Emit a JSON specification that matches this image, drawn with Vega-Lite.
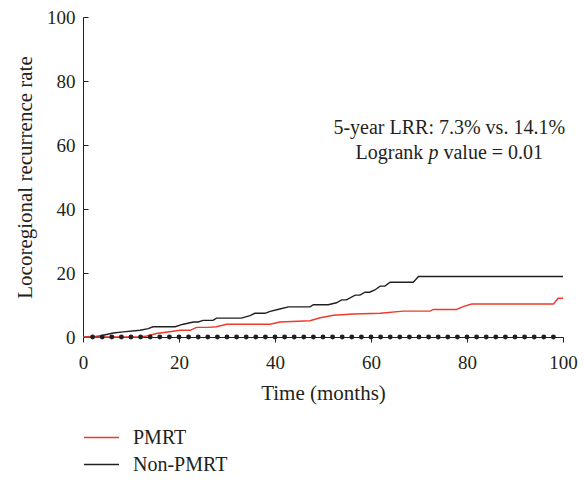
{
  "$schema": "https://vega.github.io/schema/vega-lite/v6.json",
  "autosize": "none",
  "width": 480,
  "height": 320,
  "padding": {"left": 83, "top": 17, "right": 23, "bottom": 145},
  "background": "white",
  "config": {
    "view": {"stroke": null},
    "font": "Liberation Serif",
    "axis": {
      "labelFont": "Liberation Serif", "labelFontSize": 19, "labelColor": "#231f20",
      "titleFont": "Liberation Serif", "titleFontSize": 21, "titleFontWeight": "normal", "titleColor": "#231f20",
      "domainColor": "#231f20", "tickColor": "#231f20", "grid": false
    }
  },
  "datasets": {
    "curves": [
      {"group": "Non-PMRT", "month": 0, "rate": 0},
      {"group": "Non-PMRT", "month": 2, "rate": 0},
      {"group": "Non-PMRT", "month": 3.5, "rate": 0.3},
      {"group": "Non-PMRT", "month": 6.3, "rate": 1.25},
      {"group": "Non-PMRT", "month": 8.4, "rate": 1.6},
      {"group": "Non-PMRT", "month": 11.9, "rate": 2.1},
      {"group": "Non-PMRT", "month": 13.6, "rate": 2.6},
      {"group": "Non-PMRT", "month": 14.6, "rate": 3.2},
      {"group": "Non-PMRT", "month": 19.2, "rate": 3.2},
      {"group": "Non-PMRT", "month": 20.9, "rate": 4},
      {"group": "Non-PMRT", "month": 23, "rate": 4.7},
      {"group": "Non-PMRT", "month": 24, "rate": 4.7},
      {"group": "Non-PMRT", "month": 25, "rate": 5.2},
      {"group": "Non-PMRT", "month": 27.1, "rate": 5.2},
      {"group": "Non-PMRT", "month": 27.8, "rate": 5.9},
      {"group": "Non-PMRT", "month": 33, "rate": 5.9},
      {"group": "Non-PMRT", "month": 34.8, "rate": 6.7},
      {"group": "Non-PMRT", "month": 35.8, "rate": 7.4},
      {"group": "Non-PMRT", "month": 37.9, "rate": 7.4},
      {"group": "Non-PMRT", "month": 39, "rate": 8},
      {"group": "Non-PMRT", "month": 41, "rate": 8.75},
      {"group": "Non-PMRT", "month": 42.8, "rate": 9.4},
      {"group": "Non-PMRT", "month": 47.3, "rate": 9.4},
      {"group": "Non-PMRT", "month": 48, "rate": 10.1},
      {"group": "Non-PMRT", "month": 51.1, "rate": 10.1},
      {"group": "Non-PMRT", "month": 52.8, "rate": 10.7},
      {"group": "Non-PMRT", "month": 53.9, "rate": 11.6},
      {"group": "Non-PMRT", "month": 54.9, "rate": 11.6},
      {"group": "Non-PMRT", "month": 56.7, "rate": 13.1},
      {"group": "Non-PMRT", "month": 57.7, "rate": 13.1},
      {"group": "Non-PMRT", "month": 58.75, "rate": 14},
      {"group": "Non-PMRT", "month": 59.7, "rate": 14},
      {"group": "Non-PMRT", "month": 60.8, "rate": 14.7},
      {"group": "Non-PMRT", "month": 61.9, "rate": 15.9},
      {"group": "Non-PMRT", "month": 62.9, "rate": 15.9},
      {"group": "Non-PMRT", "month": 64, "rate": 17.1},
      {"group": "Non-PMRT", "month": 68.8, "rate": 17.1},
      {"group": "Non-PMRT", "month": 69.9, "rate": 18.9},
      {"group": "Non-PMRT", "month": 100, "rate": 18.9},
      {"group": "PMRT", "month": 0, "rate": 0},
      {"group": "PMRT", "month": 11.9, "rate": 0},
      {"group": "PMRT", "month": 13.3, "rate": 0.3},
      {"group": "PMRT", "month": 15.3, "rate": 1.1},
      {"group": "PMRT", "month": 18.8, "rate": 1.8},
      {"group": "PMRT", "month": 20.2, "rate": 2.1},
      {"group": "PMRT", "month": 22.3, "rate": 2.1},
      {"group": "PMRT", "month": 23.7, "rate": 3},
      {"group": "PMRT", "month": 26, "rate": 3},
      {"group": "PMRT", "month": 27.8, "rate": 3.2},
      {"group": "PMRT", "month": 29.9, "rate": 4},
      {"group": "PMRT", "month": 39, "rate": 4},
      {"group": "PMRT", "month": 41, "rate": 4.7},
      {"group": "PMRT", "month": 47.3, "rate": 5.1},
      {"group": "PMRT", "month": 49.4, "rate": 6},
      {"group": "PMRT", "month": 52.2, "rate": 6.8},
      {"group": "PMRT", "month": 56.3, "rate": 7.2},
      {"group": "PMRT", "month": 61.9, "rate": 7.4},
      {"group": "PMRT", "month": 66.7, "rate": 8.1},
      {"group": "PMRT", "month": 72.3, "rate": 8.1},
      {"group": "PMRT", "month": 73, "rate": 8.6},
      {"group": "PMRT", "month": 77.8, "rate": 8.6},
      {"group": "PMRT", "month": 79.2, "rate": 9.5},
      {"group": "PMRT", "month": 81, "rate": 10.3},
      {"group": "PMRT", "month": 98, "rate": 10.3},
      {"group": "PMRT", "month": 99, "rate": 12.1},
      {"group": "PMRT", "month": 100, "rate": 12.1}
    ],
    "dots": [
      {"month": 2}, {"month": 4}, {"month": 6}, {"month": 8}, {"month": 10},
      {"month": 12}, {"month": 14}, {"month": 16}, {"month": 18}, {"month": 20},
      {"month": 22}, {"month": 24}, {"month": 26}, {"month": 28}, {"month": 30},
      {"month": 32}, {"month": 34}, {"month": 36}, {"month": 38}, {"month": 40},
      {"month": 42}, {"month": 44}, {"month": 46}, {"month": 48}, {"month": 50},
      {"month": 52}, {"month": 54}, {"month": 56}, {"month": 58}, {"month": 60},
      {"month": 62}, {"month": 64}, {"month": 66}, {"month": 68}, {"month": 70},
      {"month": 72}, {"month": 74}, {"month": 76}, {"month": 78}, {"month": 80},
      {"month": 82}, {"month": 84}, {"month": 86}, {"month": 88}, {"month": 90},
      {"month": 92}, {"month": 94}, {"month": 96}, {"month": 98}
    ]
  },
  "layer": [
    {
      "data": {"name": "curves"},
      "mark": {"type": "line", "strokeWidth": 1.4, "interpolate": "linear"},
      "encoding": {
        "x": {
          "field": "month", "type": "quantitative",
          "scale": {"domain": [0, 100], "nice": false},
          "axis": {"title": "Time (months)", "values": [0, 20, 40, 60, 80, 100], "tickSize": 5, "labelPadding": 11, "titlePadding": 10, "labelFlush": false}
        },
        "y": {
          "field": "rate", "type": "quantitative",
          "scale": {"domain": [0, 100], "nice": false},
          "axis": {"title": "Locoregional recurrence rate", "values": [0, 20, 40, 60, 80, 100], "tickSize": -5, "labelPadding": 13, "titlePadding": 11, "labelFlush": false}
        },
        "color": {
          "field": "group", "type": "nominal",
          "scale": {"domain": ["PMRT", "Non-PMRT"], "range": ["#ec3b2c", "#231f20"]},
          "legend": {
            "title": null, "orient": "none", "legendX": 0, "legendY": 408,
            "direction": "vertical", "symbolType": "stroke", "symbolSize": 1225,
            "symbolStrokeWidth": 1.3, "labelFont": "Liberation Serif", "labelFontSize": 20,
            "labelColor": "#231f20", "labelOffset": 13, "clipHeight": 25, "rowPadding": 2, "padding": 0
          }
        }
      }
    },
    {
      "data": {"name": "dots"},
      "mark": {"type": "point", "filled": true, "size": 24, "color": "#231f20", "opacity": 1},
      "encoding": {
        "x": {"field": "month", "type": "quantitative"},
        "y": {"datum": 0, "type": "quantitative"}
      }
    },
    {
      "data": {"values": [{"t": "5-year LRR: 7.3% vs. 14.1%"}]},
      "mark": {"type": "text", "align": "center", "baseline": "alphabetic", "font": "Liberation Serif", "fontSize": 20, "color": "#231f20"},
      "encoding": {"text": {"field": "t"}, "x": {"datum": 76.3}, "y": {"datum": 63.4}}
    },
    {
      "data": {"values": [{"t": "Logrank"}]},
      "mark": {"type": "text", "align": "right", "baseline": "alphabetic", "font": "Liberation Serif", "fontSize": 20, "color": "#231f20"},
      "encoding": {"text": {"field": "t"}, "x": {"datum": 70.9}, "y": {"datum": 55.6}}
    },
    {
      "data": {"values": [{"t": "p"}]},
      "mark": {"type": "text", "align": "center", "baseline": "alphabetic", "font": "Liberation Serif", "fontSize": 20, "fontStyle": "italic", "color": "#231f20"},
      "encoding": {"text": {"field": "t"}, "x": {"datum": 73.0}, "y": {"datum": 55.6}}
    },
    {
      "data": {"values": [{"t": "value = 0.01"}]},
      "mark": {"type": "text", "align": "left", "baseline": "alphabetic", "font": "Liberation Serif", "fontSize": 20, "color": "#231f20"},
      "encoding": {"text": {"field": "t"}, "x": {"datum": 75.1}, "y": {"datum": 55.6}}
    }
  ]
}
